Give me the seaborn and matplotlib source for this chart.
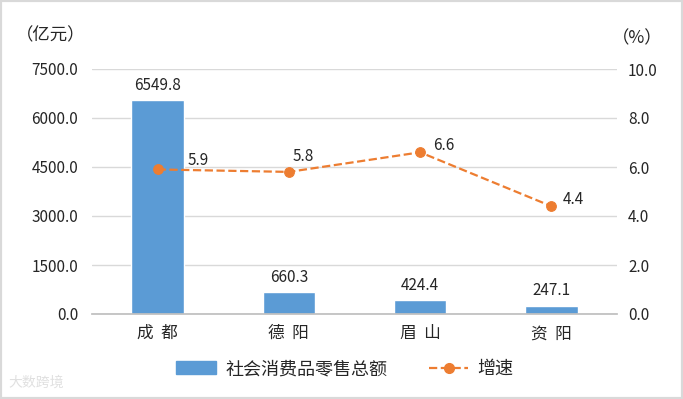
import numpy as np
import pandas as pd
import matplotlib
matplotlib.use("Agg")
import matplotlib.pyplot as plt
from matplotlib.patches import Rectangle
from matplotlib.lines import Line2D
from matplotlib.patches import Patch
import seaborn as sns

cities = ["成都", "德阳", "眉山", "资阳"]
tick_labels = ["成  都", "德  阳", "眉  山", "资  阳"]
sales = [6549.8, 660.3, 424.4, 247.1]
growth = [5.9, 5.8, 6.6, 4.4]
left_ticks = [0, 1500, 3000, 4500, 6000, 7500]
right_ticks = [0, 2, 4, 6, 8, 10]

# label offsets (pixels) for growth labels, as in the reference
label_dx = [41, 14, 24, 22]
label_dy = [9, 15, 7, 7]

sns.set_theme(style="white")
plt.rcParams['font.family'] = ['Noto Sans CJK SC', 'DejaVu Sans']

BAR = "#5B9BD5"
LINE = "#ED7D31"
TXT = "#262626"

fig = plt.figure(figsize=(6.83, 3.99), dpi=100)
ax = fig.add_axes([92/683, 1-314/399, (617-92)/683, (314-69)/399])

df = pd.DataFrame({"city": cities, "sales": sales, "growth": growth})
sns.barplot(data=df, x="city", y="sales", color=BAR, width=0.4, ax=ax,
            saturation=1, zorder=2)
ax.set_xlim(-0.5, 3.5)
ax.set_ylim(0, 7500)
ax.set_yticks(left_ticks)
ax.set_yticklabels([f"{v:.1f}" for v in left_ticks], fontsize=11, color=TXT)
ax.set_xticks(range(4))
ax.set_xticklabels(tick_labels, fontsize=12, color=TXT)
ax.set_xlabel("")
ax.set_ylabel("")
ax.grid(axis="y", color="#D9D9D9", linewidth=1, zorder=0)
ax.set_axisbelow(True)
for s in ["top", "left", "right"]:
    ax.spines[s].set_visible(False)
ax.spines["bottom"].set_color("#BFBFBF")
ax.tick_params(axis="x", length=0, pad=8)
ax.tick_params(axis="y", length=0, pad=10)
ax.set_xticks(np.arange(-0.5, 4, 1), minor=True)
ax.tick_params(axis="x", which="minor", length=5, color="#BFBFBF", width=1)

for i, v in enumerate(sales):
    ax.text(i, v + 200, f"{v:.1f}", ha="center", va="bottom", fontsize=11, color=TXT)

ax2 = ax.twinx()
sns.lineplot(x=np.arange(4), y=growth, ax=ax2, color=LINE, linestyle="--",
             linewidth=1.6, marker="o", markersize=7, markeredgecolor=LINE, zorder=3)
ax2.set_ylim(0, 10)
ax2.set_yticks(right_ticks)
ax2.set_yticklabels([f"{v:.1f}" for v in right_ticks], fontsize=11, color=TXT)
ax2.tick_params(axis="y", length=0, pad=8)
for s in ["top", "left", "right", "bottom"]:
    ax2.spines[s].set_visible(False)
ax2.grid(False)
for i, v in enumerate(growth):
    ax2.annotate(f"{v:.1f}", (i, v), xytext=(label_dx[i] * 0.72, label_dy[i] * 0.72),
                 textcoords="offset points", ha="center", va="center",
                 fontsize=11, color=TXT)

fig.text(16/683, 1-35/399, "（亿元）", fontsize=12.5, color=TXT, va="center", ha="left")
fig.text(612/683, 1-38/399, "（%）", fontsize=12.5, color=TXT, va="center", ha="left")

handles = [Patch(facecolor=BAR, edgecolor=BAR),
           Line2D([0], [0], color=LINE, linestyle="--", linewidth=1.6, marker="o", markersize=7)]
fig.legend(handles, ["社会消费品零售总额", "增速"], loc="center",
           bbox_to_anchor=(0.505, 1-369/399), ncol=2, frameon=False, fontsize=13,
           handlelength=2.2, columnspacing=2.3, handletextpad=0.5)

fig.text(8/683, 1-383/399, "大数跨境", fontsize=10, color="#E0E0E0", va="center", ha="left")

fig.patches.append(Rectangle((0, 0), 1, 1, transform=fig.transFigure, fill=False,
                             edgecolor="#D9D9D9", linewidth=3))

fig.savefig("out.png", dpi=100)
